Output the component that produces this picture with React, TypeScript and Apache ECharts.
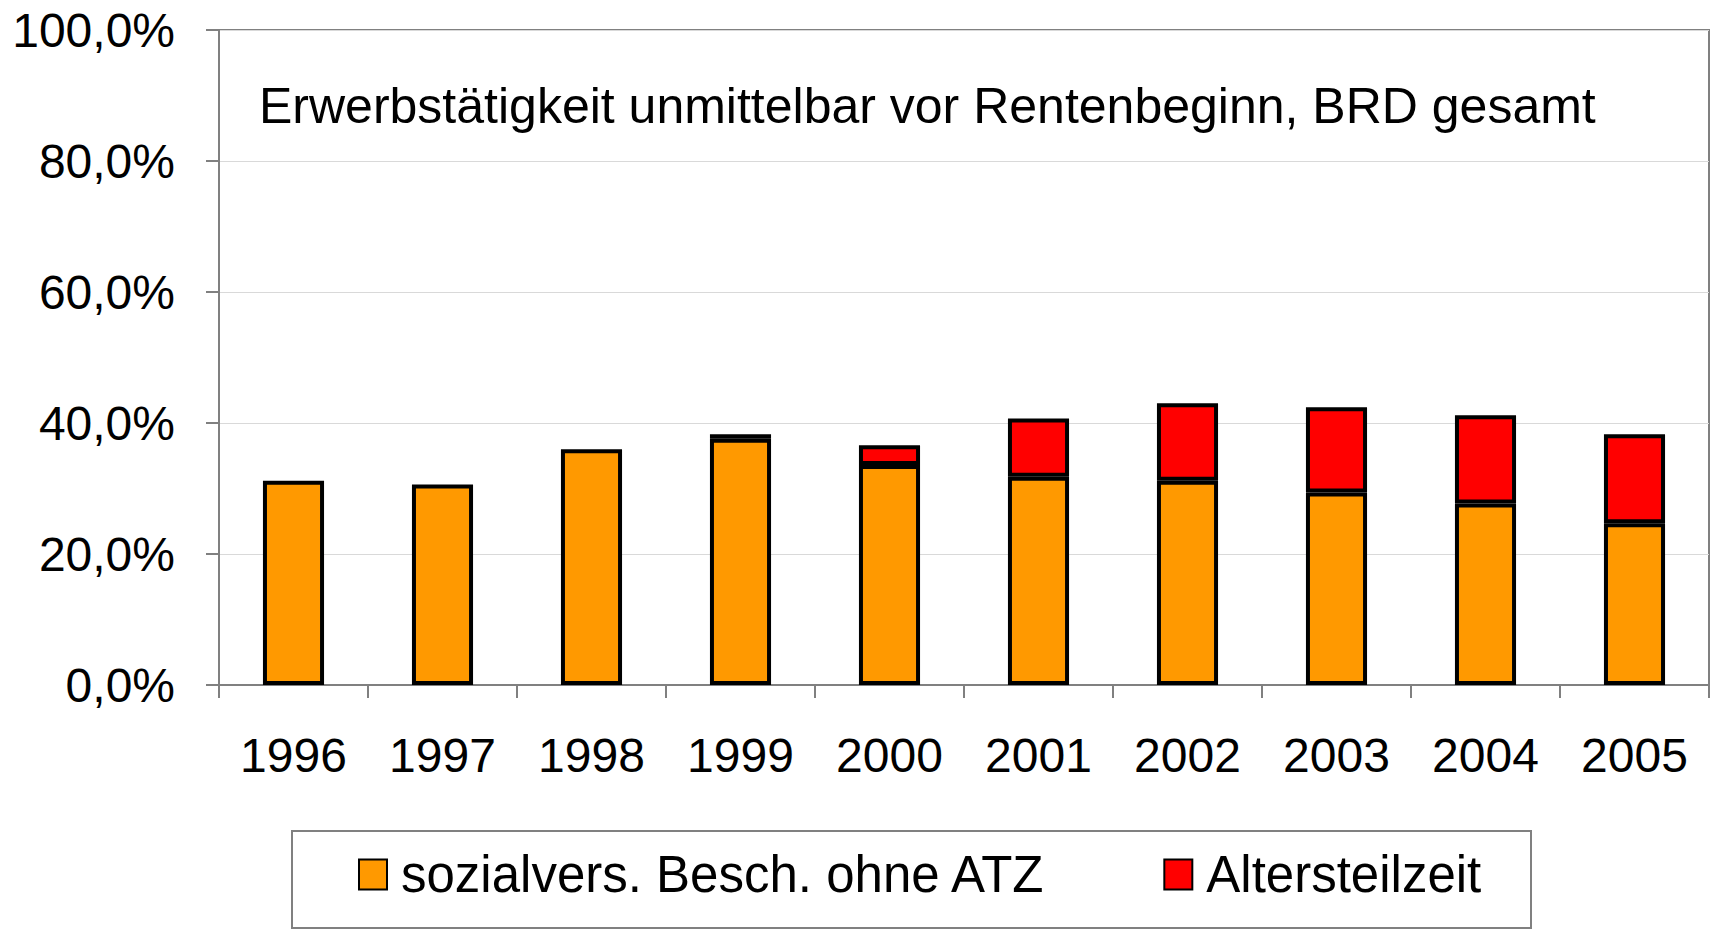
import React, { useEffect, useRef } from "react";
import * as echarts from "echarts";

const years = ["1996", "1997", "1998", "1999", "2000", "2001", "2002", "2003", "2004", "2005"];
const sozialvers = [31.2, 30.6, 36.0, 37.6, 33.6, 31.8, 31.2, 29.4, 27.7, 24.7];
const altersteilzeit = [null, null, null, 0.7, 3.0, 8.9, 11.8, 13.0, 13.5, 13.6];
const yTicks = { min: 0, max: 100, interval: 20 };
const titleText = "Erwerbstätigkeit unmittelbar vor Rentenbeginn, BRD gesamt";
const seriesNames = ["sozialvers. Besch. ohne ATZ", "Altersteilzeit"];

const FONT = '"Liberation Sans", Arial, sans-serif';

export default function App() {
  const ref = useRef<HTMLDivElement>(null);
  useEffect(() => {
    document.body.style.margin = "0";
    const chart = echarts.init(ref.current!, undefined, { renderer: "svg" });
    chart.setOption({
      animation: false,
      backgroundColor: "#ffffff",
      textStyle: { fontFamily: FONT, color: "#000" },
      grid: {
        left: 219,
        right: 6,
        top: 30,
        bottom: 246,
        show: true,
        borderColor: "#808080",
        borderWidth: 2,
      },
      graphic: [
        {
          type: "text",
          x: 259,
          y: 106,
          style: {
            text: titleText,
            font: `50px ${FONT}`,
            fill: "#000",
            verticalAlign: "middle",
          },
        },
        {
          type: "rect",
          shape: { x: 292, y: 831, width: 1239, height: 97 },
          style: { fill: "none", stroke: "#808080", lineWidth: 2 },
        },
      ],
      legend: {
        left: 358,
        top: 849,
        padding: 0,
        itemWidth: 28,
        itemHeight: 30,
        itemGap: 117,
        icon: "rect",
        textStyle: { fontSize: 51, color: "#000", fontFamily: FONT, padding: [0, 0, 0, 9] },
        data: seriesNames,
      },
      xAxis: {
        type: "category",
        data: years,
        axisLine: { lineStyle: { color: "#808080", width: 2 } },
        axisTick: { show: true, length: 13, interval: 0, lineStyle: { color: "#808080", width: 2 } },
        axisLabel: { fontSize: 48, color: "#000", margin: 46, fontFamily: FONT, interval: 0 },
        splitLine: { show: false },
      },
      yAxis: {
        type: "value",
        min: yTicks.min,
        max: yTicks.max,
        interval: yTicks.interval,
        axisLine: { show: true, lineStyle: { color: "#808080", width: 2 } },
        axisTick: { show: true, length: 13, lineStyle: { color: "#808080", width: 2 } },
        axisLabel: {
          fontSize: 48,
          color: "#000",
          margin: 44,
          fontFamily: FONT,
          formatter: (v: number) => v.toFixed(1).replace(".", ",") + "%",
        },
        splitLine: { show: true, lineStyle: { color: "#d9d9d9", width: 1 } },
      },
      series: [
        {
          name: seriesNames[0],
          type: "bar",
          stack: "total",
          data: sozialvers,
          barWidth: "41%",
          itemStyle: { color: "#FF9900", borderColor: "#000", borderWidth: 4 },
        },
        {
          name: seriesNames[1],
          type: "bar",
          stack: "total",
          data: altersteilzeit,
          barWidth: "41%",
          itemStyle: { color: "#FF0000", borderColor: "#000", borderWidth: 4 },
        },
      ],
    });
    return () => chart.dispose();
  }, []);
  return <div ref={ref} style={{ width: 1715, height: 931 }} />;
}
